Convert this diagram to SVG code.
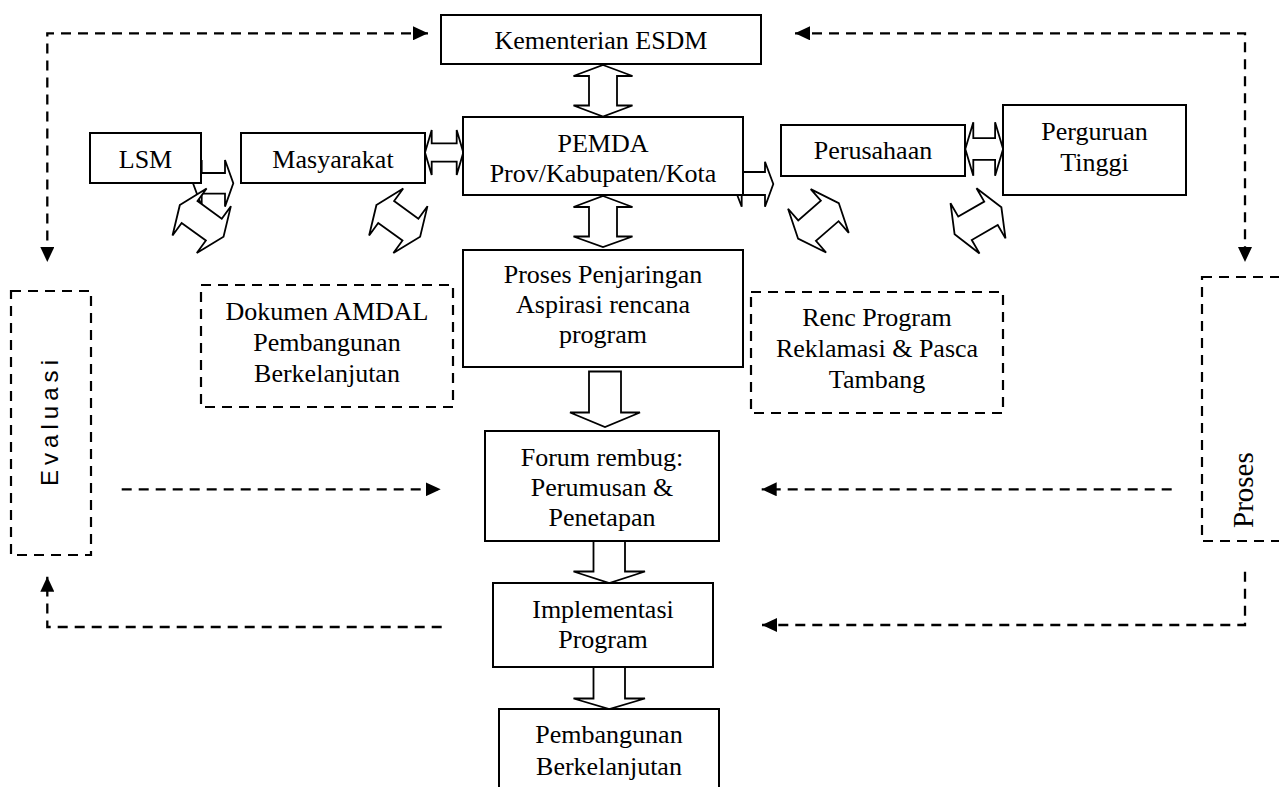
<svg xmlns="http://www.w3.org/2000/svg" xmlns:xlink="http://www.w3.org/1999/xlink" width="1279" height="787" viewBox="0 0 1279 787">
<style>
.box{fill:#fff;stroke:#000;stroke-width:2}
.dbox{fill:#fff;stroke:#000;stroke-width:2.2;stroke-dasharray:10 7}
.t{font-family:"Liberation Serif","Times New Roman",serif;font-size:26px;fill:#000;text-anchor:middle}
.ha{fill:#fff;stroke:#000;stroke-width:1.8;stroke-linejoin:miter}
.dl{fill:none;stroke:#000;stroke-width:2.3;stroke-dasharray:10 7}
</style>
<defs>
<marker id="ah" viewBox="0 0 15 14" refX="15" refY="7" markerWidth="15" markerHeight="14" markerUnits="userSpaceOnUse" orient="auto-start-reverse">
<path d="M0,0 L15,7 L0,14 z" fill="#000"/>
</marker>
<polygon id="dbl" points="-27,0 -15,-29 -15,-13.5 15,-13.5 15,-29 27,0 15,29 15,13.5 -15,13.5 -15,29"/>
</defs>
<rect width="1279" height="787" fill="#fff"/>

<g id="connectors">
<path class="dl" d="M428,33.3 H47.3 V262" marker-start="url(#ah)" marker-end="url(#ah)"/>
<path class="dl" d="M795,33.3 H1245 V262" marker-start="url(#ah)" marker-end="url(#ah)"/>
<path class="dl" d="M121.7,489.3 H440.7" marker-end="url(#ah)"/>
<path class="dl" d="M1171.7,489.3 H761.7" marker-end="url(#ah)"/>
<path class="dl" d="M1245,571.7 V625 H762" marker-end="url(#ah)"/>
<path class="dl" d="M441.7,627 H47.3 V576.7" marker-end="url(#ah)"/>

<polygon class="ha" points="603,65 632.5,76 617,76 617,105.5 632.5,105.5 603,116.5 573.5,105.5 589,105.5 589,76 573.5,76"/>
<polygon class="ha" points="603,196 632.5,207 617,207 617,236.5 632.5,236.5 603,247 573.5,236.5 589,236.5 589,207 573.5,207"/>
<polygon class="ha" points="589,371.5 621,371.5 621,412.5 640,412.5 605,427 570,412.5 589,412.5"/>
<polygon class="ha" points="593.5,541 625,541 625,571.5 645,571.5 609.3,583 573.5,571.5 593.5,571.5"/>
<polygon class="ha" points="593.5,667 625,667 625,698.5 645,698.5 609.3,709 573.5,698.5 593.5,698.5"/>

<polygon class="ha" points="425,152.5 431.7,130 431.7,143.3 456.7,143.3 456.7,130 463.3,152.5 456.7,175 456.7,161.7 431.7,161.7 431.7,175"/>
<polygon class="ha" points="965.3,149 973.3,122.3 973.3,138.2 995.1,138.2 995.1,122.3 1003.1,149 995.1,175.7 995.1,159.8 973.3,159.8 973.3,175.7"/>
<polygon class="ha" points="193,183.3 201.7,160 201.7,173 225,173 225,160 233.3,183.3 225,206.6 225,193.6 201.7,193.6 201.7,206.6"/>
<polygon class="ha" points="733,184 741.7,161.7 741.7,172 765,172 765,161.7 773.3,184 765,206.7 765,195 741.7,195 741.7,206.7"/>

<use xlink:href="#dbl" class="ha" transform="translate(201.7,220.8) rotate(36)"/>
<use xlink:href="#dbl" class="ha" transform="translate(398.3,220.8) rotate(36)"/>
<use xlink:href="#dbl" class="ha" transform="translate(818.4,220.8) rotate(-41)"/>
<use xlink:href="#dbl" class="ha" transform="translate(978,220.8) rotate(-30)"/>
</g>

<g id="kementerian"><rect class="box" x="441" y="15" width="320" height="49"/><text class="t" x="601" y="48.5">Kementerian ESDM</text></g>
<g id="pemda"><rect class="box" x="463" y="117" width="280" height="78"/><text class="t" x="603" y="151.7">PEMDA</text><text class="t" x="603" y="181.7">Prov/Kabupaten/Kota</text></g>
<g id="lsm"><rect class="box" x="90" y="133" width="111" height="50"/><text class="t" x="145.5" y="168">LSM</text></g>
<g id="masyarakat"><rect class="box" x="241" y="133" width="184" height="50"/><text class="t" x="333" y="168">Masyarakat</text></g>
<g id="perusahaan"><rect class="box" x="781" y="125" width="184" height="51"/><text class="t" x="873" y="159">Perusahaan</text></g>
<g id="perguruan"><rect class="box" x="1003" y="105" width="183" height="90"/><text class="t" x="1094.5" y="140">Perguruan</text><text class="t" x="1094.5" y="171">Tinggi</text></g>
<g id="penjaringan"><rect class="box" x="463" y="250" width="280" height="117"/><text class="t" x="603" y="283">Proses Penjaringan</text><text class="t" x="603" y="313">Aspirasi rencana</text><text class="t" x="603" y="343">program</text></g>
<g id="amdal"><rect class="dbox" x="201" y="285" width="252" height="122"/><text class="t" x="327" y="320">Dokumen AMDAL</text><text class="t" x="327" y="351">Pembangunan</text><text class="t" x="327" y="382">Berkelanjutan</text></g>
<g id="renc"><rect class="dbox" x="751" y="292" width="252" height="121"/><text class="t" x="877" y="326">Renc Program</text><text class="t" x="877" y="357">Reklamasi &amp; Pasca</text><text class="t" x="877" y="388">Tambang</text></g>
<g id="forum"><rect class="box" x="485" y="431" width="234" height="110"/><text class="t" x="602" y="466">Forum rembug:</text><text class="t" x="602" y="496">Perumusan &amp;</text><text class="t" x="602" y="526">Penetapan</text></g>
<g id="implementasi"><rect class="box" x="493" y="583" width="220" height="84"/><text class="t" x="603" y="618">Implementasi</text><text class="t" x="603" y="648">Program</text></g>
<g id="pembangunan"><rect class="box" x="499" y="709" width="220" height="100"/><text class="t" x="609" y="743">Pembangunan</text><text class="t" x="609" y="775">Berkelanjutan</text></g>
<g id="evaluasi"><rect class="dbox" x="11" y="291" width="80" height="264"/><text x="0" y="0" transform="translate(58.3,486) rotate(-90)" font-family="'Liberation Sans',Arial,sans-serif" font-size="24" textLength="126" lengthAdjust="spacing">E v a l u a s i</text></g>
<g id="proses"><rect class="dbox" x="1202" y="277" width="120" height="264"/><text x="0" y="0" transform="translate(1253,528) rotate(-90)" font-family="'Liberation Serif','Times New Roman',serif" font-size="29">Proses</text></g>
</svg>
